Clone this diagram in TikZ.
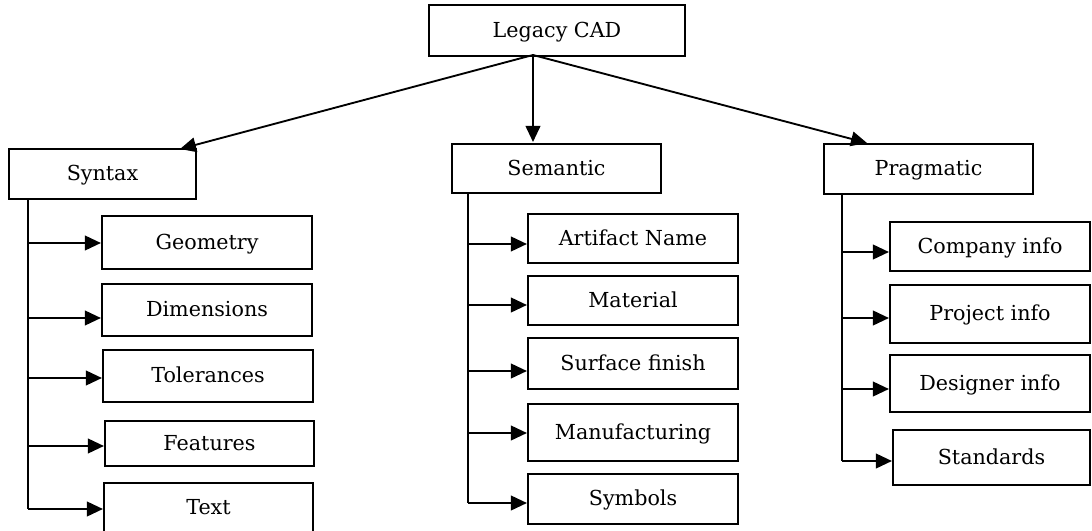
\documentclass[tikz,border=0pt]{standalone}
\usepackage{fontspec}
\setmainfont{DejaVu Serif}
\usetikzlibrary{arrows.meta}
\tikzset{
  box/.style={draw, line width=1.6pt, inner sep=0pt, text height=0.73em, text depth=0pt,
    font=\fontsize{15.5}{18}\selectfont},
  link/.style={line width=1.4pt, -{Triangle[length=12pt,width=11pt]}},
  trunk/.style={line width=1.4pt}
}
% \bx{name}{x1}{y1}{x2}{y2}{label}: box given by its corners, label set a little low
\newcommand\bx[6]{\node[box, minimum width={(#4-#2)*0.75pt}, minimum height={(#5-#3)*0.75pt}]
  (#1) at ({(#2+#4)/2},{(#3+#5)/2}) {};
  \node[box, draw=none] at ([yshift=-1.5pt]#1.center) {#6};}
\begin{document}
\begin{tikzpicture}[x=0.75pt, y=-0.75pt]
\useasboundingbox (0,0) rectangle (1092,531);

% top level
\bx{root}{429}{5}{685}{56}{Legacy CAD}
\bx{syn}{9}{149}{196}{199}{Syntax}
\bx{sem}{452}{144}{661}{193}{Semantic}
\bx{prag}{824}{144}{1033}{194}{Pragmatic}

\coordinate (src) at (533,55);
\coordinate (synTip) at (180,149);
\coordinate (semTip) at (533,142);
\coordinate (pragTip) at (867,143);
\draw[link] (src) -- (synTip);
\draw[link] (src) -- (semTip);
\draw[link] (src) -- (pragTip);

% Syntax branch
\bx{geo}{102}{216}{312}{269}{Geometry}
\bx{dim}{102}{284}{312}{336}{Dimensions}
\bx{tol}{103}{350}{313}{402}{Tolerances}
\bx{feat}{105}{421}{314}{466}{Features}
\bx{txt}{104}{483}{313}{532}{Text}
\coordinate (s1) at (28,243);
\coordinate (s2) at (28,318);
\coordinate (s3) at (28,378);
\coordinate (s4) at (28,446);
\coordinate (s5) at (28,509);
\draw[trunk] (syn.south -| s5) -- (s5);
\draw[link] (s1) -- (s1 -| geo.west);
\draw[link] (s2) -- (s2 -| dim.west);
\draw[link] (s3) -- (s3 -| tol.west);
\draw[link] (s4) -- (s4 -| feat.west);
\draw[link] (s5) -- (s5 -| txt.west);

% Semantic branch
\bx{art}{528}{214}{738}{263}{Artifact Name}
\bx{mat}{528}{276}{738}{325}{Material}
\bx{surf}{528}{338}{738}{389}{Surface finish}
\bx{manu}{528}{404}{738}{461}{Manufacturing}
\bx{sym}{528}{474}{738}{524}{Symbols}
\coordinate (m1) at (468,244);
\coordinate (m2) at (468,305);
\coordinate (m3) at (468,371);
\coordinate (m4) at (468,433);
\coordinate (m5) at (468,503);
\draw[trunk] (sem.south -| m5) -- (m5);
\draw[link] (m1) -- (m1 -| art.west);
\draw[link] (m2) -- (m2 -| mat.west);
\draw[link] (m3) -- (m3 -| surf.west);
\draw[link] (m4) -- (m4 -| manu.west);
\draw[link] (m5) -- (m5 -| sym.west);

% Pragmatic branch
\bx{comp}{890}{222}{1090}{271}{Company info}
\bx{proj}{890}{285}{1090}{343}{Project info}
\bx{des}{890}{355}{1090}{412}{Designer info}
\bx{std}{893}{430}{1090}{485}{Standards}
\coordinate (p1) at (842,252);
\coordinate (p2) at (842,318);
\coordinate (p3) at (842,389);
\coordinate (p4) at (842,461);
\draw[trunk] (prag.south -| p4) -- (p4);
\draw[link] (p1) -- (p1 -| comp.west);
\draw[link] (p2) -- (p2 -| proj.west);
\draw[link] (p3) -- (p3 -| des.west);
\draw[link] (p4) -- (p4 -| std.west);
\end{tikzpicture}
\end{document}
